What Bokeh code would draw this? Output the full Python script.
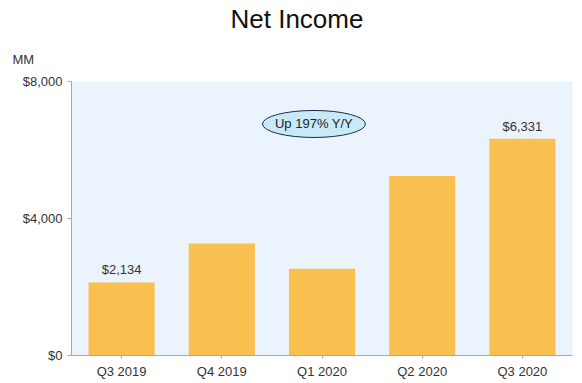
from bokeh.plotting import figure
from bokeh.models import FactorRange, Range1d, FixedTicker, NumeralTickFormatter, Label, ColumnDataSource, Title
from bokeh.embed import file_html
from bokeh.resources import INLINE

categories = ["Q3 2019", "Q4 2019", "Q1 2020", "Q2 2020", "Q3 2020"]
net_income = [2134, 3268, 2535, 5243, 6331]
labelled = [0, 4]
y_ticks = [0, 4000, 8000]
title_text = "Net Income"
unit_text = "MM"
callout_text = "Up 197% Y/Y"

FONT = "Liberation Sans"

p = figure(width=582, height=383, x_range=FactorRange(*categories, range_padding=0),
           y_range=Range1d(0, 8000), output_backend="svg", toolbar_location=None, title=None,
           min_border_left=71, min_border_right=10, min_border_top=81, min_border_bottom=28)
p.background_fill_color = "#EBF3FD"
p.border_fill_color = "white"
p.outline_line_color = None
p.xgrid.grid_line_color = None
p.ygrid.grid_line_color = None

src = ColumnDataSource(dict(cat=categories, val=net_income))
p.vbar(x="cat", top="val", width=0.66, source=src, fill_color="#F9C04F", line_color=None)

for ax in (p.xaxis[0], p.yaxis[0]):
    ax.axis_line_color = "#A8A8A8"
    ax.major_tick_line_color = "#A8A8A8"
    ax.major_tick_in = 0
    ax.major_tick_out = 4
    ax.minor_tick_line_color = None
    ax.major_label_text_font = FONT
    ax.major_label_text_font_size = "13px"
    ax.major_label_text_color = "#333333"
p.xaxis[0].major_tick_out = 3
p.yaxis[0].ticker = FixedTicker(ticks=y_ticks)
p.yaxis[0].formatter = NumeralTickFormatter(format="$0,0")

for i in labelled:
    p.add_layout(Label(x=i + 0.5, y=net_income[i], text="${:,}".format(net_income[i]),
                       text_align="center", text_baseline="bottom", y_offset=5,
                       text_font=FONT, text_font_size="13px", text_color="#333333"))

p.ellipse(x=[2.42], y=[6760], width=103, height=27, width_units="screen", height_units="screen",
          fill_color="#C8E9F8", line_color="#1F2A44", line_width=1)
p.add_layout(Label(x=2.42, y=6760, text=callout_text, text_align="center", text_baseline="middle",
                   text_font=FONT, text_font_size="13px", text_color="#222222"))

mm = Title(text=unit_text, align="left", offset=-59, standoff=30,
           text_font=FONT, text_font_size="13px", text_font_style="normal", text_color="#333333")
ttl = Title(text=title_text, align="left", offset=159, standoff=2,
            text_font=FONT, text_font_size="26px", text_font_style="normal", text_color="#111111")
p.add_layout(mm, "above")
p.add_layout(ttl, "above")

open("out.html", "w").write(file_html(p, INLINE))
